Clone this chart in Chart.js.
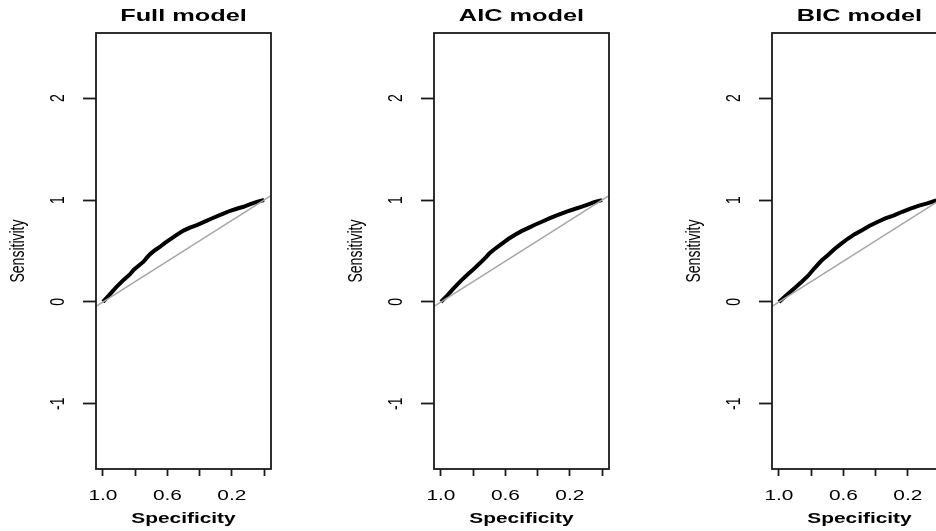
<!DOCTYPE html>
<html>
<head>
<meta charset="utf-8">
<script src="https://cdn.jsdelivr.net/npm/chart.js@4"></script>
<style>
  html, body { margin: 0; padding: 0; background: #fff; }
  #wrap { position: relative; width: 936px; height: 531px; overflow: hidden; }
  #wrap canvas { position: absolute; top: 0; }
</style>
</head>
<body>
<div id="wrap">
  <canvas id="c0" width="338" height="531" style="left:0px"></canvas>
  <canvas id="c1" width="338" height="531" style="left:338px"></canvas>
  <canvas id="c2" width="338" height="531" style="left:676px"></canvas>
</div>
<script>
// panel titles
const titles = ['Full model', 'AIC model', 'BIC model'];

// ROC curves (specificity, sensitivity)
const fullSpec = [1.0, 0.96, 0.92, 0.872, 0.83, 0.81, 0.775, 0.748, 0.73, 0.707, 0.675, 0.645, 0.615, 0.583, 0.54, 0.50, 0.46, 0.417, 0.365, 0.314, 0.26, 0.21, 0.17, 0.128, 0.085, 0.045, 0.0];
const fullSens = [0.0, 0.07, 0.14, 0.216, 0.275, 0.314, 0.36, 0.395, 0.43, 0.47, 0.51, 0.542, 0.58, 0.615, 0.66, 0.70, 0.73, 0.755, 0.79, 0.826, 0.862, 0.895, 0.915, 0.934, 0.96, 0.983, 1.0];

const aicSpec = [1.0, 0.96, 0.92, 0.875, 0.835, 0.805, 0.775, 0.745, 0.72, 0.70, 0.67, 0.64, 0.61, 0.58, 0.54, 0.50, 0.46, 0.42, 0.37, 0.32, 0.265, 0.215, 0.17, 0.125, 0.085, 0.045, 0.0];
const aicSens = [0.0, 0.065, 0.135, 0.21, 0.27, 0.31, 0.355, 0.40, 0.44, 0.475, 0.515, 0.55, 0.585, 0.62, 0.66, 0.695, 0.725, 0.755, 0.79, 0.825, 0.86, 0.89, 0.912, 0.935, 0.958, 0.982, 1.0];

const bicSpec = [1.0, 0.95, 0.90, 0.86, 0.82, 0.78, 0.737, 0.695, 0.655, 0.615, 0.573, 0.53, 0.49, 0.44, 0.389, 0.34, 0.286, 0.235, 0.184, 0.13, 0.08, 0.03, 0.0];
const bicSens = [0.0, 0.07, 0.139, 0.195, 0.255, 0.33, 0.404, 0.46, 0.52, 0.57, 0.62, 0.665, 0.70, 0.745, 0.785, 0.82, 0.85, 0.885, 0.917, 0.945, 0.967, 0.993, 1.0];

// axes
const xMin = -0.043, xMax = 1.043;
const yMin = -1.64, yMax = 2.64;
const xTicks = [1.0, 0.8, 0.6, 0.4, 0.2, 0.0];
const xTickLabels = ['1.0', '', '0.6', '', '0.2', ''];
const yTicks = [-1, 0, 1, 2];
const yTickLabels = ['-1', '0', '1', '2'];

const specs = [fullSpec, aicSpec, bicSpec];
const sens = [fullSens, aicSens, bicSens];

const SX = 1.49; // the source figure is stretched sideways
const INK = '#1a1a1a';

function stretchedText(ctx, txt, x, y, font, rotate) {
    ctx.save();
    ctx.translate(x, y);
    ctx.scale(SX, 1);
    if (rotate) ctx.rotate(-Math.PI / 2);
    ctx.font = font;
    ctx.fillStyle = '#000';
    ctx.textAlign = 'center';
    ctx.textBaseline = 'middle';
    ctx.fillText(txt, 0, 0);
    ctx.restore();
}

const frame = {
    id: 'frame',
    afterDraw(chart, args, opts) {
        const ctx = chart.ctx;
        const a = chart.chartArea;
        const xs = chart.scales.x, ys = chart.scales.y;
        ctx.save();
        ctx.strokeStyle = INK;
        ctx.lineWidth = 1.8;
        ctx.strokeRect(a.left, a.top, a.right - a.left, a.bottom - a.top);
        ctx.restore();

        const cx = (a.left + a.right) / 2;
        stretchedText(ctx, opts.title, cx, 16, 'bold 17px "Liberation Sans", Arial', false);
        stretchedText(ctx, 'Specificity', cx, 519, 'bold 14px "Liberation Sans", Arial', false);
        stretchedText(ctx, 'Sensitivity', 18, (a.top + a.bottom) / 2, '14px "Liberation Sans", Arial', true);

        xTicks.forEach((v, i) => {
            if (xTickLabels[i]) stretchedText(ctx, xTickLabels[i], xs.getPixelForValue(v), 496, '14px "Liberation Sans", Arial', false);
        });
        yTicks.forEach((v, i) => {
            stretchedText(ctx, yTickLabels[i], 58, ys.getPixelForValue(v), '14px "Liberation Sans", Arial', true);
        });
    }
};

titles.forEach((t, k) => {
    const curve = specs[k].map((s, i) => ({ x: s, y: sens[k][i] }));
    new Chart(document.getElementById('c' + k), {
        type: 'scatter',
        data: {
            datasets: [{
                // chance line
                data: [{ x: xMax, y: 1 - xMax }, { x: xMin, y: 1 - xMin }],
                showLine: true,
                borderColor: '#a6a6a6',
                borderWidth: 1.5,
                pointRadius: 0
            }, {
                data: curve,
                showLine: true,
                borderColor: '#000',
                borderWidth: 4,
                pointRadius: 0,
                tension: 0
            }]
        },
        options: {
            responsive: false,
            animation: false,
            events: [],
            layout: { padding: { left: 83, right: 67, top: 33, bottom: 55 } },
            plugins: {
                legend: { display: false },
                tooltip: { enabled: false },
                frame: { title: t }
            },
            scales: {
                x: {
                    type: 'linear',
                    reverse: true,
                    min: xMin,
                    max: xMax,
                    afterBuildTicks: s => { s.ticks = xTicks.map(v => ({ value: v })); },
                    afterFit: s => { s.height = 7; },
                    ticks: { display: false },
                    border: { display: false },
                    grid: { drawOnChartArea: false, tickLength: 7, tickColor: INK, tickWidth: 1.8 }
                },
                y: {
                    type: 'linear',
                    min: yMin,
                    max: yMax,
                    afterBuildTicks: s => { s.ticks = yTicks.map(v => ({ value: v })); },
                    afterFit: s => { s.width = 13; },
                    ticks: { display: false },
                    border: { display: false },
                    grid: { drawOnChartArea: false, tickLength: 13, tickColor: INK, tickWidth: 1.8 }
                }
            }
        },
        plugins: [frame]
    });
});
</script>
</body>
</html>
